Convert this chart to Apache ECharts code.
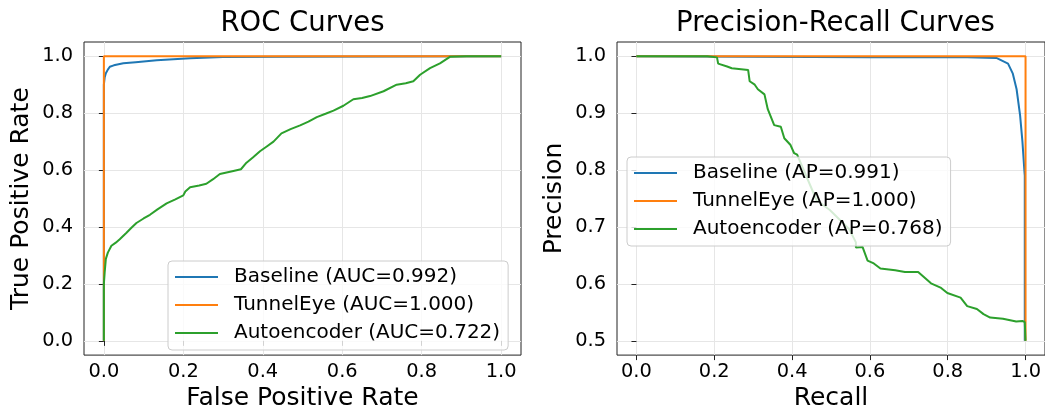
<!DOCTYPE html>
<html>
<head>
<meta charset="utf-8">
<script src="https://cdn.jsdelivr.net/npm/echarts@6/dist/echarts.min.js"></script>
<style>
html,body{margin:0;padding:0;background:#fff;}
#chart{width:1045px;height:416px;}
</style>
</head>
<body>
<div id="chart"></div>
<script>
// ---- data ----
const rocTitle = 'ROC Curves';
const prTitle = 'Precision-Recall Curves';
const rocNames = ['Baseline (AUC=0.992)', 'TunnelEye (AUC=1.000)', 'Autoencoder (AUC=0.722)'];
const prNames = ['Baseline (AP=0.991)', 'TunnelEye (AP=1.000)', 'Autoencoder (AP=0.768)'];
const unitTicks = [0, 0.2, 0.4, 0.6, 0.8, 1.0];
const precisionTicks = [0.5, 0.6, 0.7, 0.8, 0.9, 1.0];

// ROC: [FPR, TPR]
const rocBaseline = [[0,0],[0,0.9],[0.002,0.925],[0.005,0.94],[0.01,0.953],[0.015,0.963],[0.025,0.968],[0.049,0.975],[0.08,0.979],[0.133,0.986],[0.217,0.993],[0.3,0.997],[0.45,0.998],[0.7,0.999],[1,1]];
const rocTunnelEye = [[0,0],[0,1],[1,1]];
const rocAutoencoder = [[0,0],[0,0.2],[0.002,0.24],[0.005,0.288],[0.01,0.31],[0.019,0.334],[0.03,0.345],[0.04,0.357],[0.057,0.38],[0.07,0.398],[0.082,0.414],[0.1,0.43],[0.116,0.443],[0.135,0.462],[0.158,0.483],[0.18,0.497],[0.2,0.511],[0.205,0.525],[0.217,0.54],[0.24,0.546],[0.258,0.552],[0.275,0.568],[0.292,0.586],[0.326,0.597],[0.345,0.603],[0.359,0.626],[0.375,0.644],[0.393,0.666],[0.41,0.683],[0.427,0.70],[0.447,0.729],[0.47,0.744],[0.494,0.757],[0.515,0.77],[0.536,0.786],[0.558,0.798],[0.578,0.809],[0.603,0.826],[0.628,0.849],[0.65,0.853],[0.67,0.86],[0.704,0.877],[0.737,0.9],[0.76,0.905],[0.779,0.912],[0.796,0.935],[0.821,0.958],[0.846,0.975],[0.871,0.998],[0.913,1.0],[1.0,1.0]];

// PR: [Recall, Precision]
const prBaseline = [[0,1],[0.3,0.999],[0.6,0.998],[0.85,0.998],[0.925,0.997],[0.955,0.987],[0.967,0.97],[0.977,0.942],[0.986,0.896],[0.992,0.85],[0.997,0.799],[0.998,0.79],[0.998,0.5]];
const prTunnelEye = [[0,1],[1,1],[1,0.5]];
const prAutoencoder = [[0,1],[0.182,1.0],[0.207,0.998],[0.21,0.987],[0.233,0.982],[0.245,0.979],[0.287,0.976],[0.291,0.956],[0.304,0.95],[0.312,0.942],[0.329,0.933],[0.3375,0.907],[0.354,0.879],[0.371,0.876],[0.38,0.856],[0.396,0.844],[0.405,0.83],[0.413,0.827],[0.438,0.787],[0.463,0.747],[0.497,0.73],[0.547,0.696],[0.564,0.673],[0.564,0.664],[0.581,0.665],[0.594,0.641],[0.61,0.636],[0.627,0.627],[0.665,0.624],[0.69,0.621],[0.724,0.621],[0.757,0.601],[0.783,0.593],[0.799,0.584],[0.833,0.576],[0.85,0.561],[0.875,0.556],[0.892,0.547],[0.909,0.541],[0.942,0.539],[0.976,0.534],[0.992,0.535],[0.998,0.533],[1.0,0.5]];

const colors = ['#1f77b4', '#ff7f0e', '#2ca02c'];

// ---- chart ----
const FONT = 'DejaVu Sans';
const chart = echarts.init(document.getElementById('chart'), null, {renderer: 'canvas'});

function xAxisDef(gridIndex, name) {
  return {
    type: 'value', gridIndex, min: -0.05, max: 1.05,
    name, nameLocation: 'middle', nameGap: 30,
    nameTextStyle: {fontFamily: FONT, fontSize: 25, color: '#000'},
    axisLine: {show: false},
    axisTick: {show: true, length: 5, inside: false, customValues: unitTicks, lineStyle: {color: '#222', width: 1}},
    axisLabel: {customValues: unitTicks, margin: 7, fontFamily: FONT, fontSize: 19.4, color: '#000', formatter: v => v.toFixed(1)},
    splitLine: {show: true, lineStyle: {color: '#e6e6e6', width: 1}},
    minorTick: {show: false}
  };
}
function yAxisDef(gridIndex, name, min, max, ticks) {
  return {
    type: 'value', gridIndex, min, max,
    name, nameLocation: 'middle', nameGap: 50,
    nameTextStyle: {fontFamily: FONT, fontSize: 25, color: '#000'},
    axisLine: {show: false},
    axisTick: {show: true, length: 5, inside: false, customValues: ticks, lineStyle: {color: '#222', width: 1}},
    axisLabel: {customValues: ticks, margin: 11, fontFamily: FONT, fontSize: 19.4, color: '#000', formatter: v => v.toFixed(1)},
    splitLine: {show: true, lineStyle: {color: '#e6e6e6', width: 1}},
    minorTick: {show: false}
  };
}
function legendDef(left, top, data) {
  return {
    orient: 'vertical', left, top, data,
    icon: 'rect', itemWidth: 43, itemHeight: 2, itemGap: 8,
    textStyle: {fontFamily: FONT, fontSize: 20, lineHeight: 20, color: '#000', padding: [0, 0, 0, 11]},
    padding: [6, 8, 7, 7],
    backgroundColor: 'rgba(255,255,255,0.8)',
    borderColor: '#cccccc', borderWidth: 1, borderRadius: 4,
    selectedMode: false
  };
}
function lineSeries(name, data, idx, color) {
  return {
    type: 'line', name, data, xAxisIndex: idx, yAxisIndex: idx,
    symbol: 'none', showSymbol: false, smooth: false,
    lineStyle: {color, width: 2}, itemStyle: {color},
    emphasis: {disabled: true}, animation: false, clip: true
  };
}

const option = {
  animation: false,
  backgroundColor: '#fff',
  textStyle: {fontFamily: FONT},
  grid: [
    {left: 84, top: 42, width: 437, height: 319, show: true, borderColor: '#222', borderWidth: 1, backgroundColor: 'transparent', containLabel: false},
    {left: 617, top: 42, width: 437, height: 319, show: true, borderColor: '#222', borderWidth: 1, backgroundColor: 'transparent', containLabel: false}
  ],
  xAxis: [xAxisDef(0, 'False Positive Rate'), xAxisDef(1, 'Recall')],
  yAxis: [yAxisDef(0, 'True Positive Rate', -0.05, 1.05, unitTicks), yAxisDef(1, 'Precision', 0.475, 1.025, precisionTicks)],
  legend: [legendDef(168, 261, rocNames), legendDef(627, 157, prNames)],
  graphic: [
    {type: 'text', x: 302.5, y: 24, style: {text: rocTitle, font: '27.5px "DejaVu Sans"', fill: '#000', align: 'center', verticalAlign: 'middle'}},
    {type: 'text', x: 835.5, y: 24, style: {text: prTitle, font: '27.5px "DejaVu Sans"', fill: '#000', align: 'center', verticalAlign: 'middle'}}
  ],
  series: [
    lineSeries(rocNames[0], rocBaseline, 0, colors[0]),
    lineSeries(rocNames[1], rocTunnelEye, 0, colors[1]),
    lineSeries(rocNames[2], rocAutoencoder, 0, colors[2]),
    lineSeries(prNames[0], prBaseline, 1, colors[0]),
    lineSeries(prNames[1], prTunnelEye, 1, colors[1]),
    lineSeries(prNames[2], prAutoencoder, 1, colors[2])
  ]
};
chart.setOption(option);
</script>
</body>
</html>
